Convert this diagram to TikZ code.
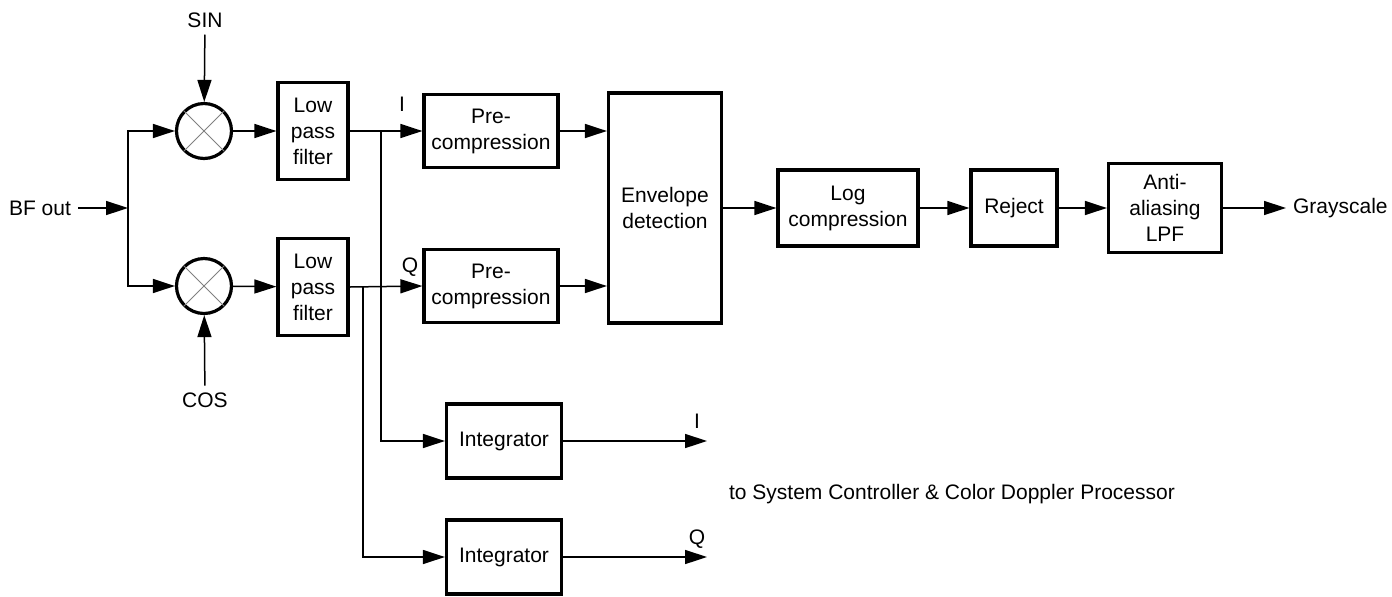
\documentclass[tikz,border=0pt]{standalone}
\usepackage{fontspec}
\setmainfont{Liberation Sans}
\usetikzlibrary{arrows.meta}
\tikzset{
	blk/.style={draw, line width=1.6pt, align=center, inner sep=0pt, font=\fontsize{10.5}{13}\selectfont},
	mixer/.style={draw, circle, line width=1.6pt, minimum size=27.5pt, inner sep=0pt},
	lbl/.style={font=\fontsize{10.5}{13}\selectfont},
	conn/.style={line width=0.75pt, -{Triangle[length=11pt, width=7pt]}},
	wire/.style={line width=0.75pt}
}
\begin{document}
\begin{tikzpicture}[x=0.5pt, y=-0.5pt]
			\useasboundingbox (0, 0) rectangle (1392, 596);
			\node[mixer] (mix1) at (204, 131) {};
			\node[mixer] (mix2) at (204, 286) {};
			\foreach \m in {mix1, mix2}
			{
				\draw[gray, line width=0.4pt] (\m.north west) -- (\m.south east);
				\draw[gray, line width=0.4pt] (\m.north east) -- (\m.south west);
			}
			\node[blk, minimum width=35pt, minimum height=48.5pt] (lpf1) at (313, 131) {Low\\pass\\filter};
			\node[blk, minimum width=35pt, minimum height=48.5pt] (lpf2) at (313, 287) {Low\\pass\\filter};
			\node[blk, minimum width=67pt, minimum height=36.5pt] (pre1) at (491, 131) {Pre-\\compression};
			\node[blk, minimum width=67pt, minimum height=36.5pt] (pre2) at (491, 286) {Pre-\\compression};
			\node[blk, minimum width=56.5pt, minimum height=115pt] (env) at (665, 208) {Envelope\\detection};
			\node[blk, minimum width=70pt, minimum height=38pt] (log) at (848, 208) {Log\\compression};
			\node[blk, minimum width=43pt, minimum height=38pt] (rej) at (1014, 208) {Reject};
			\node[blk, minimum width=56.5pt, minimum height=44.5pt] (anti) at (1165, 208) {Anti-\\aliasing\\LPF};
			\node[blk, minimum width=57.5pt, minimum height=37pt] (int1) at (504, 441) {Integrator};
			\node[blk, minimum width=57.5pt, minimum height=37pt] (int2) at (504, 557) {Integrator};
			\node[lbl, anchor=east] (bf) at (78, 208) {BF out};
			\node[lbl] (sin) at (205, 20) {SIN};
			\node[lbl] (cos) at (205, 400) {COS};
			\node[lbl, anchor=west] (gray) at (1286, 208) {Grayscale};
			\node[lbl] (labI) at (402, 104) {I};
			\node[lbl] (labQ) at (410, 267) {Q};
			\node[lbl] (outlabI) at (697, 421) {I};
			\node[lbl] (outlabQ) at (697, 539) {Q};
			\node[lbl, anchor=west] (dest) at (722, 494) {to System Controller \& Color Doppler Processor};
			\coordinate (split) at (128, 208);
			\coordinate (tapI) at (381, 131);
			\coordinate (tapQ) at (363, 287);
			\coordinate (outI) at (707, 441);
			\coordinate (outQ) at (707, 557);
			\draw[conn] (bf) -- (split);
			\draw[wire] (mix1 -| split) -- (mix2 -| split);
			\draw[conn] (split) |- (mix1);
			\draw[conn] (split) |- (mix2);
			\draw[conn] (sin) -- (mix1);
			\draw[conn] (cos) -- (mix2);
			\draw[conn] (mix1) -- (lpf1);
			\draw[conn] (mix2) -- (lpf2);
			\draw[conn] (lpf1) -- (pre1);
			\draw[conn] (lpf2.east) -- (pre2.west);
			\draw[conn] (tapI) |- (int1);
			\draw[conn] (tapQ) |- (int2);
			\draw[conn] (pre1) -- (pre1 -| env.west);
			\draw[conn] (pre2) -- (pre2 -| env.west);
			\draw[conn] (env) -- (log);
			\draw[conn] (log) -- (rej);
			\draw[conn] (rej) -- (anti);
			\draw[conn] (anti) -- (gray);
			\draw[conn] (int1) -- (outI);
			\draw[conn] (int2) -- (outQ);
		\end{tikzpicture}
\end{document}
